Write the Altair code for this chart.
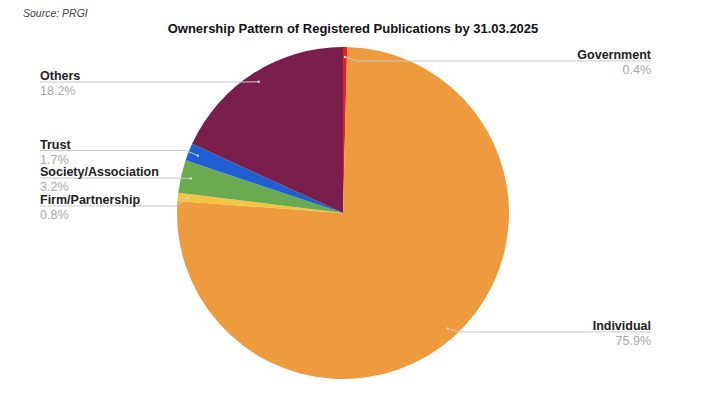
import altair as alt
import pandas as pd

# ---- data ----
categories = ["Government", "Individual", "Firm/Partnership",
              "Society/Association", "Trust", "Others"]
shares = [0.4, 75.9, 0.8, 3.2, 1.7, 18.2]
pct_labels = ["0.4%", "75.9%", "0.8%", "3.2%", "1.7%", "18.2%"]
title_text = "Ownership Pattern of Registered Publications by 31.03.2025"
source_text = "Source: PRGI"

# ---- styles / layout ----
colors = ["#e0211c", "#ee9b40", "#f5c342", "#6aab4f", "#1f5fd3", "#7a1f4b"]
OFFX, OFFY = 8, 8
CX, CY, R = 343 - OFFX, 213 - OFFY, 166
R_DOT = 156
label_side = ["right", "right", "left", "left", "left", "left"]
label_line_y = [61, 332, 206, 178, 150.5, 82]
LEFT_X, RIGHT_X = 40 - OFFX, 651 - OFFX
FONT = "Liberation Sans"

df = pd.DataFrame({
    "category": categories,
    "share": shares,
    "pct": pct_labels,
    "idx": list(range(len(categories))),
    "side": label_side,
    "liney": [y - OFFY for y in label_line_y],
})

arc = alt.Chart(df).mark_arc(outerRadius=R).encode(
    theta=alt.Theta("share:Q", stack=True),
    color=alt.Color("category:N", scale=alt.Scale(domain=categories, range=colors), legend=None),
    order=alt.Order("idx:Q"),
    x=alt.value(CX),
    y=alt.value(CY),
)

base = alt.Chart(df).transform_joinaggregate(
    total="sum(share)"
).transform_window(
    cum="sum(share)", sort=[alt.SortField("idx")], frame=[None, 0]
).transform_calculate(
    ang="(datum.cum - datum.share/2) / datum.total * 2 * PI",
).transform_calculate(
    dotx=f"{CX} + {R_DOT} * sin(datum.ang)",
    doty=f"{CY} - {R_DOT} * cos(datum.ang)",
).transform_calculate(
    elbx="datum.side == 'left' ? datum.dotx - 12 : datum.dotx + 12",
    endx=f"datum.side == 'left' ? {LEFT_X} : {RIGHT_X}",
)

X = lambda f: alt.X(f, scale=None, axis=None)
Y = lambda f: alt.Y(f, scale=None, axis=None)

rule1 = base.mark_rule(color="#c8c8c8", strokeWidth=1).encode(
    x=X("dotx:Q"), y=Y("doty:Q"), x2="elbx:Q", y2="liney:Q")
rule2 = base.mark_rule(color="#c8c8c8", strokeWidth=1).encode(
    x=X("elbx:Q"), y=Y("liney:Q"), x2="endx:Q", y2="liney:Q")
dots = base.mark_circle(size=6, color="#d8d8d8", opacity=1).encode(
    x=X("dotx:Q"), y=Y("doty:Q"))

def labels(side, align):
    b = base.transform_filter(f"datum.side == '{side}'")
    name = b.mark_text(align=align, baseline="alphabetic", dy=-2, font=FONT,
                       fontSize=12.5, fontWeight="bold", color="#222222").encode(
        x=X("endx:Q"), y=Y("liney:Q"), text="category:N")
    pct = b.mark_text(align=align, baseline="top", dy=3, font=FONT,
                      fontSize=12.5, color="#a9a9a9").encode(
        x=X("endx:Q"), y=Y("liney:Q"), text="pct:N")
    return name + pct

title = alt.Chart(pd.DataFrame({"t": [title_text]})).mark_text(
    align="center", baseline="alphabetic", font=FONT, fontSize=13,
    fontWeight="bold", color="#111111").encode(
    x=alt.value(353 - OFFX), y=alt.value(33 - OFFY), text="t:N")
source = alt.Chart(pd.DataFrame({"t": [source_text]})).mark_text(
    align="left", baseline="top", font="Liberation Sans Narrow, Liberation Sans",
    fontSize=10.5, fontStyle="italic", color="#444444").encode(
    x=alt.value(23 - OFFX), y=alt.value(1), text="t:N")

chart = alt.layer(
    arc, rule1, rule2, dots, labels("left", "left"), labels("right", "right"), title, source
).properties(
    width=701, height=396, autosize="none", padding=0, background="white"
).configure_view(stroke=None)

chart.save("out.html", embed_options={"renderer": "svg", "actions": False})
